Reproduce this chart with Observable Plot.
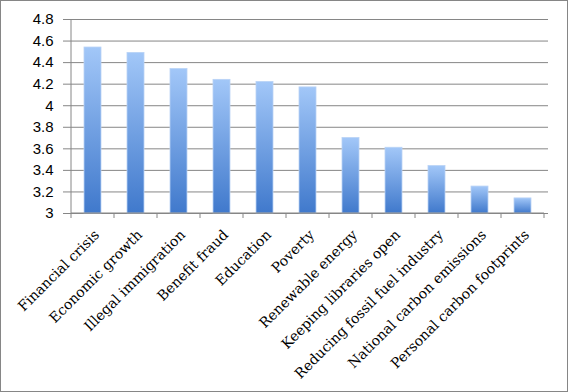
<!DOCTYPE html>
<html>
<head>
<meta charset="utf-8">
<script src="https://cdn.jsdelivr.net/npm/d3@7"></script>
<script src="https://cdn.jsdelivr.net/npm/@observablehq/plot@0.6"></script>
<style>
  html, body { margin: 0; padding: 0; background: white; }
  #chart svg { display: block; outline: 1px solid #868686; outline-offset: -1px; }
</style>
</head>
<body>
<div id="chart"></div>
<script>
const categories = [
  "Financial crisis", "Economic growth", "Illegal immigration", "Benefit fraud",
  "Education", "Poverty", "Renewable energy", "Keeping libraries open",
  "Reducing fossil fuel industry", "National carbon emissions", "Personal carbon footprints"
];
const values = [4.54, 4.49, 4.34, 4.24, 4.22, 4.17, 3.70, 3.61, 3.44, 3.25, 3.14];
const yTicks = [3, 3.2, 3.4, 3.6, 3.8, 4, 4.2, 4.4, 4.6, 4.8];
const yBase = 3;

const data = categories.map((c, i) => ({category: c, value: values[i]}));

const plot = Plot.plot({
  width: 568,
  height: 392,
  marginLeft: 68,
  marginRight: 20,
  marginTop: 19,
  marginBottom: 179,
  style: {background: "white", color: "black"},
  x: {domain: categories, paddingInner: 0.6, paddingOuter: 0.3, label: null},
  y: {domain: [yTicks[0], yTicks[yTicks.length - 1]], label: null},
  marks: [
    Plot.gridY(yTicks, {stroke: "#868686", strokeOpacity: 1}),
    Plot.barY(data, {x: "category", y1: yBase, y2: "value", fill: "url(#barGrad)", stroke: "#b9d3f6", strokeWidth: 0.8}),
    Plot.axisY(yTicks, {
      tickSize: 5, tickPadding: 10, stroke: "#868686",
      tickFormat: d => String(+d.toFixed(1)),
      fontSize: 15, fontFamily: "Liberation Sans, Arial, sans-serif", fill: "black"
    }),
    Plot.axisX({
      tickSize: 0, tickRotate: -45, tickPadding: 19, dx: 4,
      fontSize: 14, fontFamily: "DejaVu Serif, serif", fill: "black"
    })
  ]
});

// gradient definition for the bars
const svg = d3.select(plot);
const defs = svg.insert("defs", ":first-child");
const grad = defs.append("linearGradient").attr("id", "barGrad")
  .attr("x1", 0).attr("y1", 0).attr("x2", 0).attr("y2", 1);
grad.append("stop").attr("offset", "0%").attr("stop-color", "#a2c7f8");
grad.append("stop").attr("offset", "100%").attr("stop-color", "#4079cc");

// axis lines and category boundary ticks
const xs = plot.scale("x");
const ys = plot.scale("y");
const step = xs.step, bw = xs.bandwidth;
const bounds = categories.map(c => xs.apply(c) + bw / 2 - step / 2);
bounds.push(bounds[bounds.length - 1] + step);
const y0 = ys.apply(yBase), yTop = ys.apply(yTicks[yTicks.length - 1]);
const g = svg.append("g").attr("stroke", "#868686").attr("stroke-width", 1);
g.append("line").attr("x1", bounds[0]).attr("x2", bounds[bounds.length - 1]).attr("y1", y0).attr("y2", y0);
g.append("line").attr("x1", bounds[0]).attr("x2", bounds[0]).attr("y1", yTop).attr("y2", y0);
g.selectAll(".bt").data(bounds).join("line")
  .attr("x1", d => d).attr("x2", d => d).attr("y1", y0).attr("y2", y0 + 5);

document.getElementById("chart").append(plot);
</script>
</body>
</html>
